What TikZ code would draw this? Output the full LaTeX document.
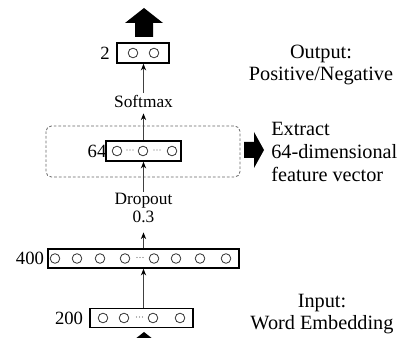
\documentclass[tikz,border=0pt]{standalone}
\usepackage{fontspec}
\setmainfont{Liberation Serif}
\usetikzlibrary{arrows.meta}
\begin{document}
\begin{tikzpicture}[x=0.75pt,y=-0.75pt,
  layerbox/.style={draw=black, line width=1.2pt, inner sep=0pt, minimum height=15pt},
  unit/.style={draw=black!80, line width=0.6pt},
  gapdot/.style={fill=black!60},
  conn/.style={draw=black!75, line width=0.7pt, -{Stealth[length=5pt,width=4pt,black]}},
  blockarrow/.style={fill=black},
  lab/.style={font=\fontsize{13}{13}\selectfont, inner sep=1pt},
  sizelab/.style={font=\fontsize{14}{14}\selectfont, inner sep=1pt},
  side/.style={font=\fontsize{15.2}{17}\selectfont, align=center, inner sep=0pt},
  dashbox/.style={draw=black!60, line width=0.6pt, dash pattern=on 2pt off 1.5pt, rounded corners=4pt}
]
\useasboundingbox (0,0) rectangle (400,338);
\coordinate (ax) at (143.5,0);

% layers
\node[layerbox, minimum width=39pt]    (b2)   at (143,53)    {};
\node[layerbox, minimum width=56.25pt] (b64)  at (143.5,151) {};
\node[layerbox, minimum width=143.25pt, minimum height=14.25pt] (b400) at (143.5,258.5) {};
\node[layerbox, minimum width=77.25pt, minimum height=14.5pt]  (b200) at (141.5,318) {};

% units inside the layers
\foreach \cx in {133,154} \draw[unit] (\cx,53) circle[radius=3.6pt];
\foreach \cx in {117,143,172} \draw[unit] (\cx,151) circle[radius=3.6pt];
\foreach \cx in {55,77,100,125,154,176,200,226} \draw[unit] (\cx,258.5) circle[radius=3.6pt];
\foreach \cx in {103,124,153,180} \draw[unit] (\cx,318) circle[radius=3.6pt];

% ellipses between units
\foreach \cx/\cy in {130/150, 157/150, 140/257.5, 139.5/317}
  \foreach \d in {-3,0,3} \fill[gapdot] (\cx+\d,\cy) circle[radius=0.45pt];

% layer sizes
\node[sizelab] (n2)   at (105,53)  {2};
\node[sizelab] (n64)  at (97,151)  {64};
\node[sizelab] (n400) at (30,258)  {400};
\node[sizelab] (n200) at (69,318)  {200};

% operations
\node[lab] (soft) at (143.5,101) {Softmax};
\node[lab] (drop) at (143.5,201) {Dropout};
\node[lab] (rate) at (143.5,217) {0.3};

% feature block
\draw[dashbox] (46,126) rectangle (240,177);

% connectors
\draw[conn] (b200.north -| ax) -- (b400.south -| ax);
\draw[conn, shorten >=6pt] (b400.north -| ax) -- (rate.south -| ax);
\draw[conn] (drop.north -| ax) -- (b64.south -| ax);
\draw[conn, shorten >=3.5pt] (b64.north -| ax) -- (soft.south -| ax);
\draw[conn] (soft.north -| ax) -- (b2.south -| ax);

% block arrows
\fill[blockarrow] (135,37) -- (135,23) -- (125,23) -- (144,8) -- (163,23) -- (153,23) -- (153,37) -- cycle;
\fill[blockarrow] (135,361) -- (135,347) -- (125,347) -- (144,332) -- (163,347) -- (153,347) -- (153,361) -- cycle;
\fill[blockarrow] (244,142) -- (254,142) -- (254,132) -- (264,150) -- (254,168) -- (254,158) -- (244,158) -- cycle;

% descriptions
\node[side] (tout) at (321,65) {Output:\\Positive/Negative};
\node[side, anchor=west, align=left] (tfeat) at (271,152) {Extract\\64-dimensional\\feature vector};
\node[side] (tin) at (322,314) {Input:\\Word Embedding};
\end{tikzpicture}
\end{document}
